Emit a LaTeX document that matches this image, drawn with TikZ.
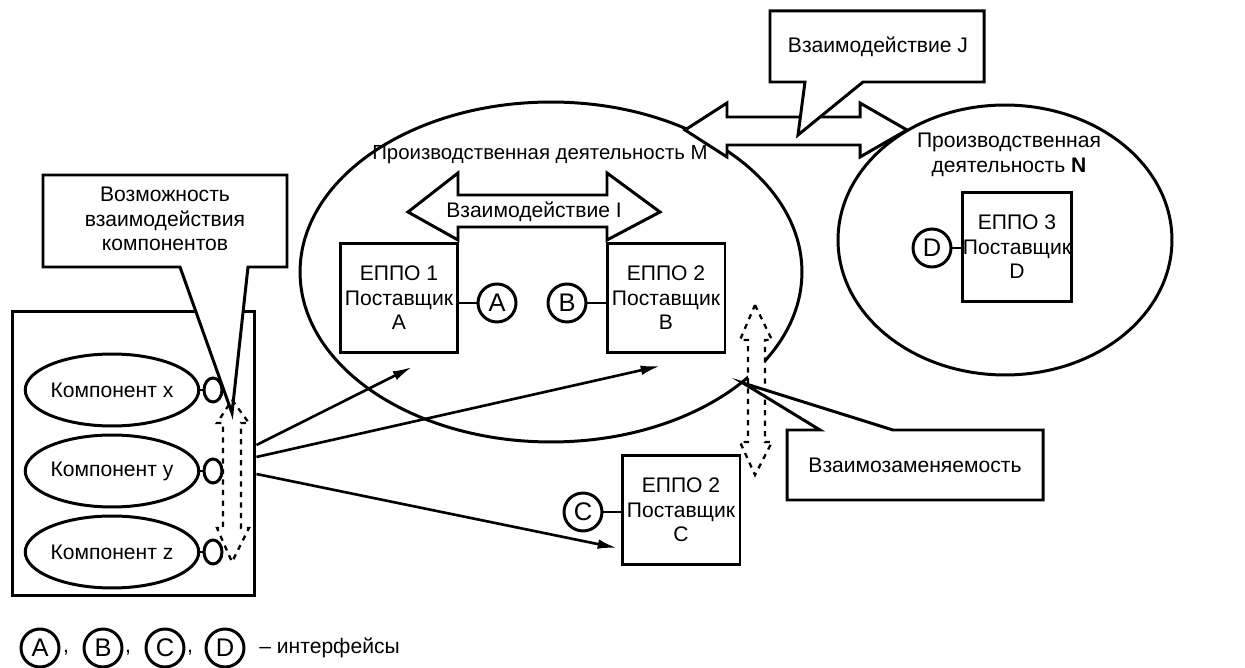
\documentclass[tikz,border=0pt]{standalone}
\usepackage{fontspec}
\setmainfont{Liberation Sans}
\usetikzlibrary{shapes.geometric,arrows.meta,positioning}

\begin{document}
\begin{tikzpicture}[x=0.02cm,y=-0.02cm,line width=1.7pt,
    every node/.style={font=\fontsize{12}{14}\selectfont},
    ebox/.style={draw,rectangle,minimum width=2.36cm,minimum height=2.18cm,inner sep=0pt,align=center},
    iface/.style={draw,circle,minimum size=0.76cm,inner sep=0pt,font=\fontsize{14.5}{16}\selectfont},
    comp/.style={draw,ellipse,minimum width=3.08cm,minimum height=1.44cm,inner sep=0pt},
    plug/.style={draw,ellipse,minimum width=0.36cm,minimum height=0.48cm,inner sep=0pt},
    callout/.style={draw,fill=white},
    dasharrow/.style={draw,dashed,line width=1.3pt},
    link/.style={-{Latex[length=11pt,width=5.5pt]},line width=1.5pt}]

    \useasboundingbox (0,0) rectangle (1245,668);

	% Activities
    \node[draw,ellipse,minimum width=10.04cm,minimum height=6.8cm] (actM) at (551,272) {};
    \node[draw,ellipse,minimum width=6.68cm,minimum height=5.4cm] (actN) at (1005,240) {};
    \node[font=\fontsize{11.6}{14}\selectfont] (titleM) at (540,155) {Производственная деятельность M};
    \node[align=center] (titleN) at (1009,155) {Производственная\\деятельность \textbf{N}};

	% Interaction J
    \draw[fill=white] (685,130) -- (727,103) -- (727,117) -- (860,117) -- (860,103) -- (907,130)
        -- (860,157) -- (860,145) -- (727,145) -- (727,157) -- cycle;
    \draw[callout] (770,11) -- (984,11) -- (984,82) -- (863,82) -- (798,135) -- (805,82) -- (770,82) -- cycle;
    \node (interJ) at (878,47) {Взаимодействие J};

	% Interaction I
    \draw (408,212) -- (458,173) -- (458,195) -- (607,195) -- (607,173) -- (660,212)
        -- (607,240) -- (607,227) -- (458,227) -- (458,240) -- cycle;
    \node (interI) at (534,212) {Взаимодействие I};

	% Software products
    \node[ebox] (eppo1) at (399,298) {ЕППО 1\\Поставщик\\A};
    \node[ebox] (eppo2) at (666,298) {ЕППО 2\\Поставщик\\B};
    \node[ebox,minimum width=2.1cm] (eppo3) at (1017,247) {ЕППО 3\\Поставщик\\D};
    \node[ebox] (eppo2c) at (681,510) {ЕППО 2\\Поставщик\\C};

	% Interfaces
    \node[iface] (ifA) at (497,303) {A};
    \node[iface] (ifB) at (567,303) {B};
    \node[iface] (ifD) at (932,248) {D};
    \node[iface] (ifC) at (583,512) {C};
    \draw (eppo1.east |- ifA) -- (ifA);
    \draw (ifB) -- (eppo2.west |- ifB);
    \draw (ifD) -- (eppo3.west |- ifD);
    \draw (ifC) -- (eppo2c.west |- ifC);

	% Components
    \node[draw,rectangle,minimum width=4.86cm,minimum height=5.7cm] (comps) at (133.5,453.5) {};
    \node[comp] (compx) at (112,390) {Компонент x};
    \node[comp] (compy) at (112,471) {Компонент y};
    \node[comp] (compz) at (112,552) {Компонент z};
    \node[plug] (plugx) at (213,390) {};
    \node[plug] (plugy) at (213,471) {};
    \node[plug] (plugz) at (213,552) {};
    \draw (compx) -- (plugx);
    \draw (compy) -- (plugy);
    \draw (compz) -- (plugz);

	% Component interoperability
    \draw[callout] (43,175) -- (287,175) -- (287,267) -- (248,267) -- (232,413) -- (180,267) -- (43,267) -- cycle;
    \node[align=center] (possib) at (165,219) {Возможность\\взаимодействия\\компонентов};
    \draw[dasharrow] (232,400) -- (249,423) -- (241,423) -- (241,528) -- (249,528) -- (232,562)
        -- (217,528) -- (223,528) -- (223,423) -- (217,423) -- cycle;

	% Interchangeability
    \draw[dasharrow,fill=white] (755,305) -- (772,340) -- (765,340) -- (765,442) -- (772,442) -- (755,475)
        -- (740,442) -- (748,442) -- (748,340) -- (740,340) -- cycle;
    \draw[callout] (787,430) -- (820,430) -- (743,383) -- (893,430) -- (1043,430) -- (1043,500) -- (787,500) -- cycle;
    \node (interch) at (915,465) {Взаимозаменяемость};

	% Links
    \coordinate (toA) at (412,367);
    \coordinate (toB) at (660,366);
    \coordinate (toC) at (617,548);
    \draw[link] (comps.east |- 0,445) -- (toA);
    \draw[link] (comps.east |- 0,457) -- (toB);
    \draw[link] (comps.east |- 0,474) -- (toC);

	% Legend
    \node[iface] (legA) at (40,648) {A};
    \node[iface] (legB) at (103,648) {B};
    \node[iface] (legC) at (165,648) {C};
    \node[iface] (legD) at (225,648) {D};
    \node (commaA) at (66,653) {,};
    \node (commaB) at (128,653) {,};
    \node (commaC) at (190,653) {,};
    \node[right] (legtext) at (252,648) {– интерфейсы};

\end{tikzpicture}
\end{document}
